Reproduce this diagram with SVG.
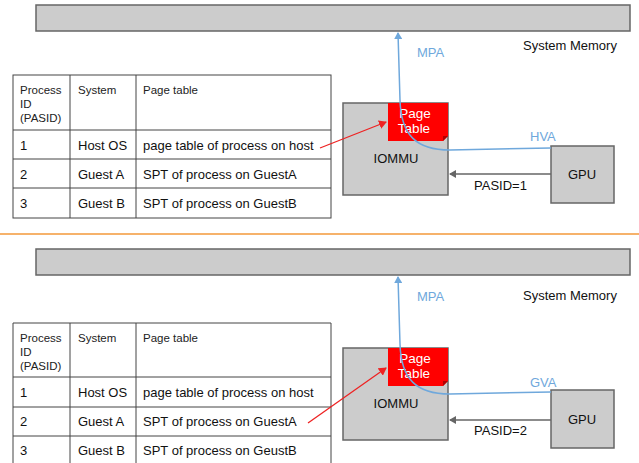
<svg xmlns="http://www.w3.org/2000/svg" width="639" height="463" viewBox="0 0 639 463">
<defs>
<style>
.box{fill:#cccccc;stroke:#666666;stroke-width:1.5}
.tbl{fill:none;stroke:#444444;stroke-width:1}
.t{font-family:"Liberation Sans",Arial,sans-serif;font-size:13px;fill:#111}
.th{font-family:"Liberation Sans",Arial,sans-serif;font-size:11.5px;fill:#222}
.c{text-anchor:middle}
.blue{font-family:"Liberation Sans",Arial,sans-serif;font-size:13px;fill:#6fa8dc}
.pt{font-family:"Liberation Sans",Arial,sans-serif;font-size:13.5px;fill:#fff;text-anchor:middle}
.bl{fill:none;stroke:#6fa8dc;stroke-width:1.5}
.gr{fill:none;stroke:#666666;stroke-width:1.5}
.rd{fill:none;stroke:#ee2222;stroke-width:1.3}
</style>
<marker id="ab" markerWidth="8" markerHeight="8" refX="6" refY="4" orient="auto" markerUnits="userSpaceOnUse"><path d="M0,0 L7,4 L0,8 z" fill="#6fa8dc"/></marker>
<marker id="ag" markerWidth="8" markerHeight="8" refX="6" refY="4" orient="auto" markerUnits="userSpaceOnUse"><path d="M0,0 L7,4 L0,8 z" fill="#666666"/></marker>
<marker id="ar" markerWidth="9" markerHeight="9" refX="7" refY="4.5" orient="auto" markerUnits="userSpaceOnUse"><path d="M0,0 L8,4.5 L0,9 z" fill="#ee2222"/></marker>
</defs>
<rect width="639" height="463" fill="#ffffff"/>

<!-- TOP -->
<g id="mem1"><rect class="box" x="36" y="5" width="594" height="26"/><text class="t" x="523" y="50">System Memory</text></g>
<g id="table1">
<rect class="tbl" x="13" y="75" width="318" height="143"/>
<line class="tbl" x1="70" y1="75" x2="70" y2="218"/>
<line class="tbl" x1="136" y1="75" x2="136" y2="218"/>
<line class="tbl" x1="13" y1="130" x2="331" y2="130"/>
<line class="tbl" x1="13" y1="159" x2="331" y2="159"/>
<line class="tbl" x1="13" y1="188" x2="331" y2="188"/>
<text class="th" x="20" y="94">Process</text><text class="th" x="20" y="108">ID</text><text class="th" x="20" y="122">(PASID)</text>
<text class="th" x="78" y="94">System</text><text class="th" x="143" y="94">Page table</text>
<text class="t" x="20" y="150">1</text><text class="t" x="78" y="150">Host OS</text><text class="t" x="143" y="150">page table of process on host</text>
<text class="t" x="20" y="179">2</text><text class="t" x="78" y="179">Guest A</text><text class="t" x="143" y="179">SPT of process on GuestA</text>
<text class="t" x="20" y="208">3</text><text class="t" x="78" y="208">Guest B</text><text class="t" x="143" y="208">SPT of process on GuestB</text>
</g>
<g id="iommu1"><rect class="box" x="343" y="103" width="105" height="92"/>
<path d="M388,103 H448 V136 L443,141 H388 z" fill="#ff0000"/><path d="M443,141 L443,136 L448,136 z" fill="#b00000"/>
<text class="pt" x="415" y="118">Page</text><text class="pt" x="414" y="133">Table</text>
<text class="t c" x="396" y="163">IOMMU</text></g>
<g id="gpu1"><rect class="box" x="551" y="146" width="63" height="57"/><text class="t c" x="582" y="179">GPU</text></g>

<!-- divider -->
<line x1="0" y1="234" x2="639" y2="234" stroke="#f6b26b" stroke-width="2"/>

<!-- BOTTOM -->
<g id="mem2"><rect class="box" x="36" y="249" width="594" height="26"/><text class="t" x="523" y="300">System Memory</text></g>
<g id="table2">
<path class="tbl" d="M13,463 V323 H331 V463"/>
<line class="tbl" x1="70" y1="323" x2="70" y2="463"/>
<line class="tbl" x1="136" y1="323" x2="136" y2="463"/>
<line class="tbl" x1="13" y1="377" x2="331" y2="377"/>
<line class="tbl" x1="13" y1="407" x2="331" y2="407"/>
<line class="tbl" x1="13" y1="436" x2="331" y2="436"/>
<text class="th" x="20" y="342">Process</text><text class="th" x="20" y="356">ID</text><text class="th" x="20" y="370">(PASID)</text>
<text class="th" x="78" y="342">System</text><text class="th" x="143" y="342">Page table</text>
<text class="t" x="20" y="397">1</text><text class="t" x="78" y="397">Host OS</text><text class="t" x="143" y="397">page table of process on host</text>
<text class="t" x="20" y="426">2</text><text class="t" x="78" y="426">Guest A</text><text class="t" x="143" y="426">SPT of process on GuestA</text>
<text class="t" x="20" y="455">3</text><text class="t" x="78" y="455">Guest B</text><text class="t" x="143" y="455">SPT of process on GeustB</text>
</g>
<g id="iommu2"><rect class="box" x="343" y="348" width="105" height="92"/>
<path d="M388,348 H448 V381 L443,386 H388 z" fill="#ff0000"/><path d="M443,386 L443,381 L448,381 z" fill="#b00000"/>
<text class="pt" x="415" y="363">Page</text><text class="pt" x="414" y="378">Table</text>
<text class="t c" x="396" y="408">IOMMU</text></g>
<g id="gpu2"><rect class="box" x="551" y="390" width="63" height="58"/><text class="t c" x="582" y="424">GPU</text></g>

<!-- connectors -->
<g id="connectors">
<path class="bl" d="M551,148 L450,150 C416,150 401,135 400,100 L398,33" marker-end="url(#ab)"/>
<path class="gr" d="M551,174 H450" marker-end="url(#ag)"/>
<path class="rd" d="M320,148 L386,122" marker-end="url(#ar)"/>
<text class="blue" x="417" y="57">MPA</text>
<text class="blue" x="530" y="141">HVA</text>
<text class="t" x="474" y="190">PASID=1</text>

<path class="bl" d="M551,392 L450,394 C416,394 401,379 400,344 L398,277" marker-end="url(#ab)"/>
<path class="gr" d="M551,420 H450" marker-end="url(#ag)"/>
<path class="rd" d="M308,423 L386,368" marker-end="url(#ar)"/>
<text class="blue" x="417" y="301">MPA</text>
<text class="blue" x="530" y="387">GVA</text>
<text class="t" x="474" y="435">PASID=2</text>
</g>
</svg>
